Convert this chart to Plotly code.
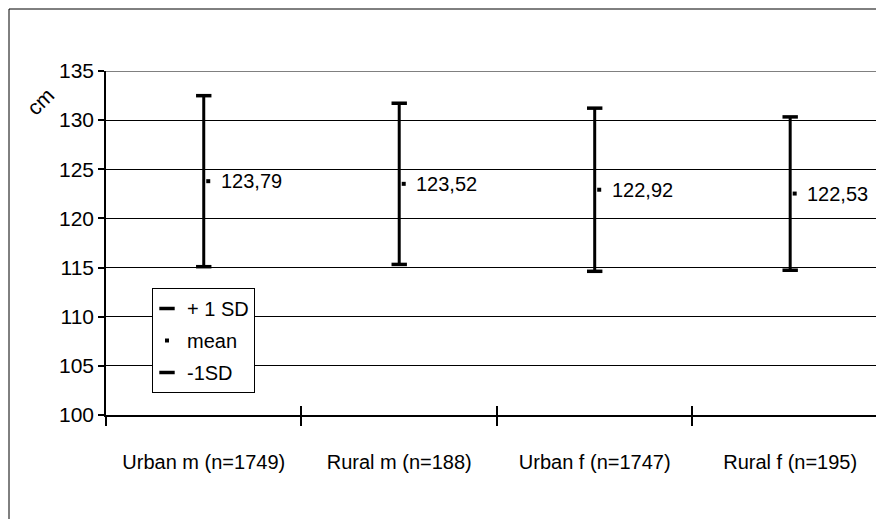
import plotly.graph_objects as go

# Body height by group: mean and standard deviation (cm)
categories = ["Urban m (n=1749)", "Rural m (n=188)", "Urban f (n=1747)", "Rural f (n=195)"]
means = [123.79, 123.52, 122.92, 122.53]
sds = [8.7, 8.2, 8.3, 7.8]
y_ticks = [100, 105, 110, 115, 120, 125, 130, 135]

FONT = "Liberation Sans, Arial, sans-serif"
FS = 20

idx = list(range(len(categories)))
boundaries = [i - 0.5 for i in idx]
x_range = [-0.5, 3.439]
mean_offset = 0.023  # the mean tick sits just right of the bar

upper = [m + s for m, s in zip(means, sds)]
lower = [m - s for m, s in zip(means, sds)]

fig = go.Figure()

# vertical range lines (mean +/- 1 SD)
fig.add_trace(go.Scatter(
    x=idx, y=means, mode="markers", xaxis="x2",
    marker=dict(size=1, color="black"),
    error_y=dict(type="data", array=sds, symmetric=True, color="black",
                 thickness=3, width=0),
    showlegend=False, hoverinfo="skip",
))

fig.add_trace(go.Scatter(
    x=idx, y=upper, mode="markers", name="+ 1 SD", legendgroup="a",
    marker=dict(symbol="line-ew", size=11, color="black",
                line=dict(color="black", width=3.5)),
))
fig.add_trace(go.Scatter(
    x=[i + mean_offset for i in idx], y=means, mode="markers", name="mean",
    legendgroup="b",
    marker=dict(symbol="square", size=4, color="black", line=dict(width=0)),
))
fig.add_trace(go.Scatter(
    x=idx, y=lower, mode="markers", name="-1SD", legendgroup="c",
    marker=dict(symbol="line-ew", size=11, color="black",
                line=dict(color="black", width=3.5)),
))

annotations = [
    dict(x=i, y=m, xref="x", yref="y", text=f"{m:.2f}".replace(".", ","),
         xanchor="left", yanchor="middle", xshift=15, showarrow=False,
         font=dict(family=FONT, size=FS, color="black"))
    for i, m in zip(idx, means)
]
annotations.append(dict(
    x=(40 - 106) / 770, y=(415 - 101) / 344, xref="paper", yref="paper",
    text="cm", textangle=-45, xanchor="center", yanchor="middle",
    showarrow=False, font=dict(family=FONT, size=21, color="black"),
))

fig.update_layout(
    width=876, height=519,
    margin=dict(l=106, r=0, t=71, b=104),
    paper_bgcolor="white", plot_bgcolor="white",
    font=dict(family=FONT, size=FS, color="black"),
    xaxis=dict(
        range=x_range, tickmode="array", tickvals=idx, ticktext=categories,
        ticks="", showgrid=False, zeroline=False,
        showline=True, linecolor="black", linewidth=1.5,
        tickfont=dict(family=FONT, size=FS, color="black"),
        ticklabelstandoff=28,
        minor=dict(tickmode="array", tickvals=boundaries, ticks="outside",
                   ticklen=9, tickwidth=1.5, tickcolor="black", showgrid=False),
    ),
    xaxis2=dict(
        range=x_range, overlaying="x", anchor="y", side="bottom",
        tickmode="array", tickvals=boundaries, ticks="inside", ticklen=9,
        tickwidth=1.5, tickcolor="black", showticklabels=False,
        showgrid=False, zeroline=False, showline=False,
    ),
    yaxis=dict(
        range=[100, 135], tickmode="array", tickvals=y_ticks,
        ticks="outside", ticklen=6, tickwidth=1.5, tickcolor="black",
        showgrid=True, gridcolor="black", gridwidth=1,
        showline=True, linecolor="black", linewidth=1.5, zeroline=False,
        tickfont=dict(family=FONT, size=FS + 1, color="black"),
    ),
    legend=dict(
        x=(152 - 106) / 770, y=(415 - 288) / 344, xanchor="left", yanchor="top",
        bgcolor="white", bordercolor="black", borderwidth=1,
        font=dict(family=FONT, size=FS, color="black"),
        itemwidth=30, tracegroupgap=3, indentation=-6,
    ),
    annotations=annotations,
    shapes=[
        # top edge of the plot area
        dict(type="line", xref="paper", yref="y", x0=0, x1=1, y0=135, y1=135,
             line=dict(color="#808080", width=2)),
        # outer chart frame
        dict(type="rect", xref="paper", yref="paper",
             x0=(9 - 106) / 770, x1=1.05, y0=-0.5, y1=406 / 344,
             line=dict(color="black", width=1), fillcolor="rgba(0,0,0,0)"),
    ],
    showlegend=True,
)

fig.write_html("out.html")
